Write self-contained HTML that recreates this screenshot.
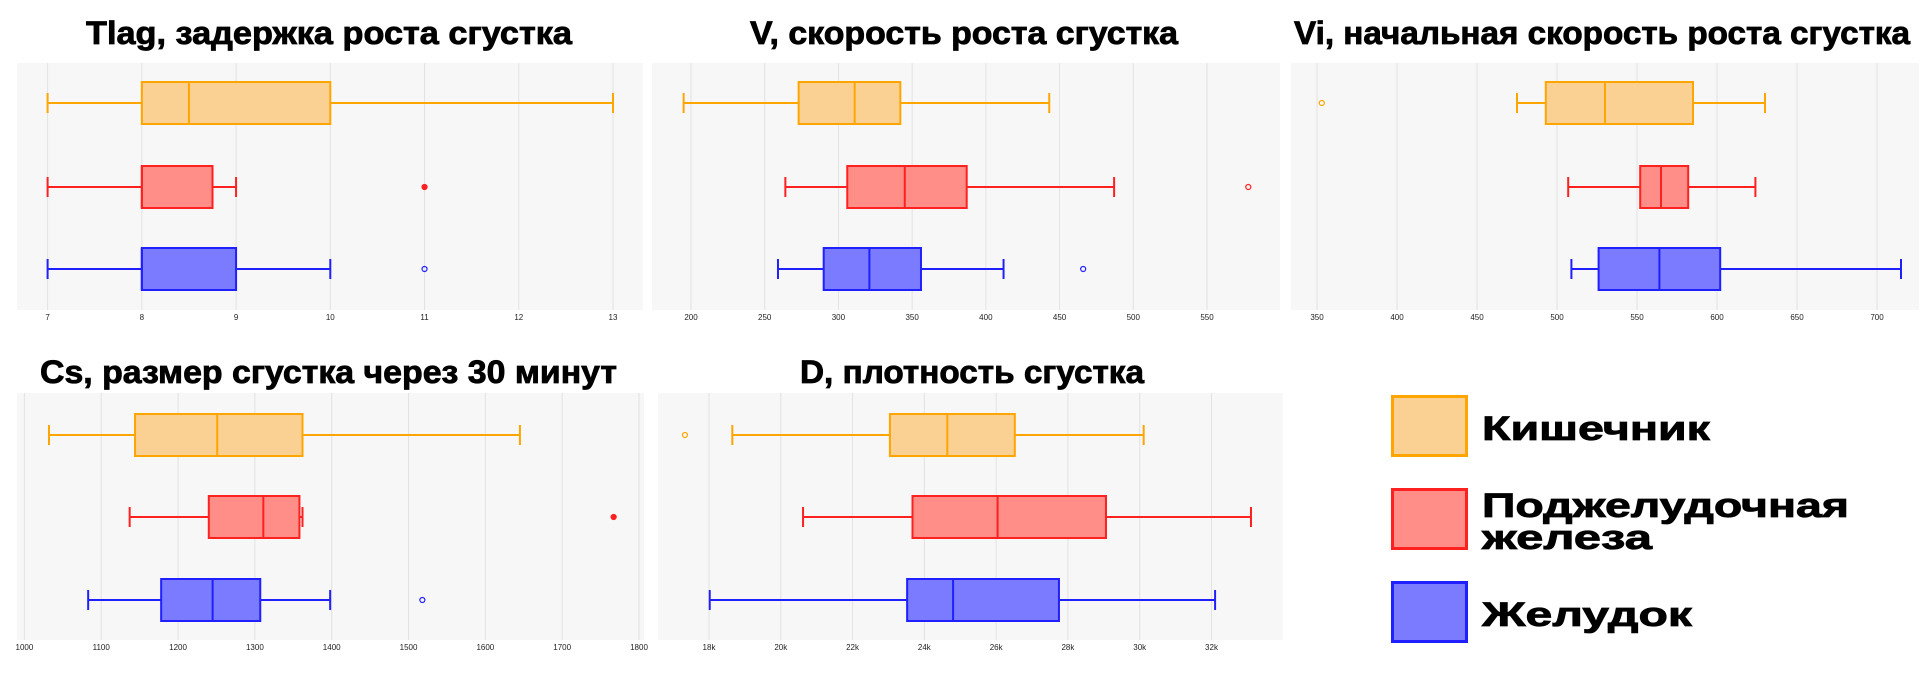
<!DOCTYPE html>
<html><head><meta charset="utf-8">
<style>
html,body{margin:0;padding:0;background:#fff;}
svg{display:block;}
text{font-family:"Liberation Sans","Noto Sans CJK SC",sans-serif;}
</style></head>
<body>
<svg id="chart" width="1924" height="693" viewBox="0 0 1924 693" xmlns="http://www.w3.org/2000/svg"></svg>
<script>
// ---- data ----
const groups = ["Кишечник", "Поджелудочная железа", "Желудок"];
// [whiskerLow, q1, median, q3, whiskerHigh]
const tlagStats = [[7,8,8.5,10,13],[7,8,8,8.75,9],[7,8,8,9,10]];
const tlagOutliers = [[],[11],[11]];
const tlagTicks = [7,8,9,10,11,12,13];
const vStats = [[195,273,311,342,443],[264,306,345,387,487],[259,290,321,356,412]];
const vOutliers = [[],[578],[466]];
const vTicks = [200,250,300,350,400,450,500,550];
const viStats = [[475,493,530,585,630],[507,552,565,582,624],[509,526,564,602,715]];
const viOutliers = [[353],[],[]];
const viTicks = [350,400,450,500,550,600,650,700];
const csStats = [[1032,1144,1251,1362,1645],[1137,1240,1311,1358,1362],[1083,1178,1245,1307,1398]];
const csOutliers = [[],[1767],[1518]];
const csTicks = [1000,1100,1200,1300,1400,1500,1600,1700,1800];
const dStats = [[18650,23040,24640,26520,30110],[20620,23670,26040,29060,33100],[18020,23520,24800,27750,32100]];
const dOutliers = [[17330],[],[]];
const dTicks = [18000,20000,22000,24000,26000,28000,30000,32000];
const dTickLabels = ["18k","20k","22k","24k","26k","28k","30k","32k"];

const NS="http://www.w3.org/2000/svg";
const svg=document.getElementById('chart');
const strokes=["#ffa500","#ff2020","#2020ff"];
const fills=["#fbd193","#ff8e88","#7b7bff"];
function mk(tag,attrs,parent){const e=document.createElementNS(NS,tag);for(const k in attrs)e.setAttribute(k,attrs[k]);(parent||svg).appendChild(e);return e;}

function panel(cfg){
  const g=mk('g',{});
  
  
  const t=mk('text',{x:cfg.tx0,y:cfg.ty,'font-size':32,'font-weight':'bold',fill:'#000',stroke:'#000','stroke-width':0.8,textLength:cfg.tx1-cfg.tx0,lengthAdjust:'spacingAndGlyphs'},g);
  t.textContent=cfg.title;
  
  
  const bg=mk('rect',{x:cfg.bx0,y:cfg.by0,width:cfg.bx1-cfg.bx0,height:cfg.by1-cfg.by0,fill:'#f7f7f7'},g);
  
  
  const x=v=>cfg.px0+(v-cfg.v0)/(cfg.v1-cfg.v0)*(cfg.px1-cfg.px0);
  cfg.ticks.forEach((tv,i)=>{
    const gl=mk('line',{x1:x(tv),x2:x(tv),y1:cfg.by0,y2:cfg.by1,stroke:'#e2e2e2','stroke-width':1},g);
    
    
    const lb=mk('text',{x:x(tv),y:cfg.by1+10,'font-size':8,'text-anchor':'middle',fill:'#222'},g);
    lb.textContent=cfg.labels?cfg.labels[i]:String(tv);
    
    
  });
  cfg.stats.forEach((s,i)=>{
    const cy=cfg.rows[i],h=21,c=10;
    const bg2=mk('g',{},g);
    
    
    mk('line',{x1:x(s[0]),x2:x(s[1]),y1:cy,y2:cy,stroke:strokes[i],'stroke-width':2},bg2);
    mk('line',{x1:x(s[3]),x2:x(s[4]),y1:cy,y2:cy,stroke:strokes[i],'stroke-width':2},bg2);
    mk('line',{x1:x(s[0]),x2:x(s[0]),y1:cy-c,y2:cy+c,stroke:strokes[i],'stroke-width':2},bg2);
    mk('line',{x1:x(s[4]),x2:x(s[4]),y1:cy-c,y2:cy+c,stroke:strokes[i],'stroke-width':2},bg2);
    mk('rect',{x:x(s[1]),y:cy-h,width:Math.max(1,x(s[3])-x(s[1])),height:2*h,fill:fills[i],stroke:strokes[i],'stroke-width':2},bg2);
    mk('line',{x1:x(s[2]),x2:x(s[2]),y1:cy-h,y2:cy+h,stroke:strokes[i],'stroke-width':2},bg2);
    cfg.outliers[i].forEach(o=>{
      const filled=(cfg.name==='tlag'||cfg.name==='cs')&&i===1;
      const p=mk('circle',{cx:x(o),cy:cy,r:2.5,fill:filled?strokes[i]:'none',stroke:strokes[i],'stroke-width':1.2},g);
      
      
    });
  });
}
const r1=[103,187,269], r2=[435,517,600];
panel({name:'tlag',title:'Tlag, задержка роста сгустка',tx0:86,tx1:572,ty:44,bx0:17,bx1:643,by0:63,by1:310,px0:47.6,px1:613,v0:7,v1:13,ticks:tlagTicks,stats:tlagStats,outliers:tlagOutliers,rows:r1});
panel({name:'v',title:'V, скорость роста сгустка',tx0:750,tx1:1178,ty:44,bx0:652,bx1:1280,by0:63,by1:310,px0:691,px1:1207,v0:200,v1:550,ticks:vTicks,stats:vStats,outliers:vOutliers,rows:r1});
panel({name:'vi',title:'Vi, начальная скорость роста сгустка',tx0:1294,tx1:1910,ty:44,bx0:1291,bx1:1919,by0:63,by1:310,px0:1317,px1:1877,v0:350,v1:700,ticks:viTicks,stats:viStats,outliers:viOutliers,rows:r1});
panel({name:'cs',title:'Cs, размер сгустка через 30 минут',tx0:40,tx1:617,ty:383,bx0:17,bx1:644,by0:393,by1:640,px0:24.4,px1:639,v0:1000,v1:1800,ticks:csTicks,stats:csStats,outliers:csOutliers,rows:r2});
panel({name:'d',title:'D, плотность сгустка',tx0:800,tx1:1144,ty:383,bx0:658,bx1:1283,by0:393,by1:640,px0:709,px1:1211.5,v0:18000,v1:32000,ticks:dTicks,labels:dTickLabels,stats:dStats,outliers:dOutliers,rows:r2});

// legend
const legTop=[395,488,581];
const legLines=[["Кишечник"],["Поджелудочная","железа"],["Желудок"]];
const legBase=[[440],[517,549],[626]];
const legW=[[228],[367,170],[210]];
legTop.forEach((ty,i)=>{
  const g=mk('g',{});
  
  
  mk('rect',{x:1392.5,y:ty+1.5,width:74,height:59,fill:fills[i],stroke:strokes[i],'stroke-width':3},g);
  legLines[i].forEach((s,j)=>{
    const t=mk('text',{x:1482,y:legBase[i][j],'font-size':34,'font-weight':'bold',fill:'#000',stroke:'#000','stroke-width':0.8,textLength:legW[i][j],lengthAdjust:'spacingAndGlyphs'},g);
    t.textContent=s;
  });
});
</script>
</body></html>
